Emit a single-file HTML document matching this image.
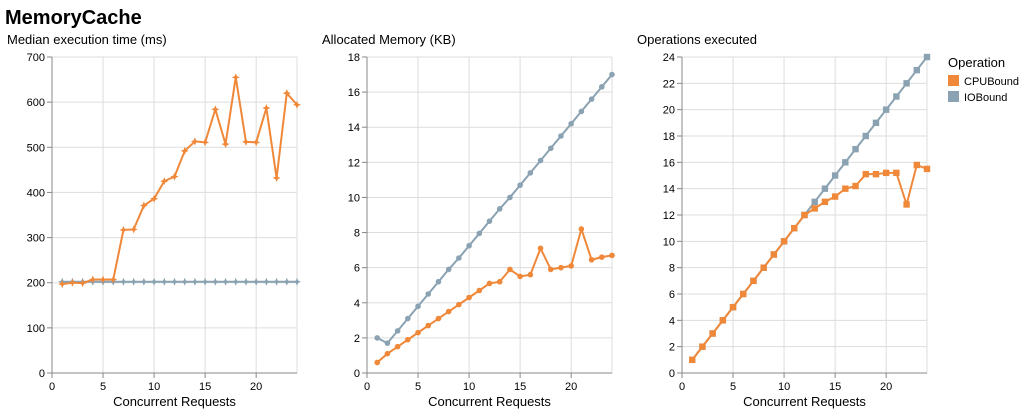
<!DOCTYPE html>
<html><head><meta charset="utf-8"><style>
body{margin:0;background:#fff;width:1027px;height:415px;overflow:hidden;font-family:"Liberation Sans",sans-serif}
</style></head><body>
<svg id="s" width="1027" height="415" xmlns="http://www.w3.org/2000/svg" font-family="Liberation Sans, sans-serif"></svg>
<script>
const S=document.getElementById('s');let h='';
const OR='#f0883a',BL='#8aa2b2';
h+='<text x="5" y="24" font-size="20" font-weight="bold" fill="#000">MemoryCache</text>';
const charts=[
{x0:52,title:'Median execution time (ms)',max:700,step:100,mk:'star',
 cpu:[197,200,199,207,207,207,317,318,371,386,425,435,492,513,511,584,507,655,512,511,587,432,620,594],
 io:Array(24).fill(202)},
{x0:367,title:'Allocated Memory (KB)',max:18,step:2,mk:'circle',
 cpu:[0.6,1.1,1.5,1.9,2.3,2.7,3.1,3.5,3.9,4.3,4.7,5.1,5.2,5.9,5.5,5.6,7.1,5.9,6.0,6.1,8.2,6.45,6.6,6.7],
 io:[2.0,1.7,2.4,3.1,3.8,4.5,5.2,5.9,6.55,7.25,7.95,8.65,9.35,10.0,10.7,11.4,12.1,12.8,13.5,14.2,14.9,15.6,16.3,17.0]},
{x0:682,title:'Operations executed',max:24,step:2,mk:'square',
 cpu:[1,2,3,4,5,6,7,8,9,10,11,12,12.5,13,13.4,14,14.2,15.1,15.1,15.2,15.2,12.8,15.8,15.5],
 io:Array.from({length:24},(_,i)=>i+1)}];
const W=245,T=57,B=373;
charts.forEach(c=>{
 const X=v=>c.x0+v/24*W, Y=v=>B-v/c.max*(B-T);
 h+=`<text x="${c.x0-45}" y="44" font-size="13" fill="#000">${c.title}</text>`;
 for(let v=0;v<=c.max;v+=c.step){const y=Y(v);
  h+=`<line x1="${c.x0}" x2="${c.x0+W}" y1="${y}" y2="${y}" stroke="#ddd"/>`;
  h+=`<line x1="${c.x0-5}" x2="${c.x0}" y1="${y}" y2="${y}" stroke="#888"/>`;
  h+=`<text x="${c.x0-7}" y="${y+4}" font-size="11" text-anchor="end" fill="#000">${v}</text>`;}
 for(let v=0;v<=20;v+=5){const x=X(v);
  h+=`<line x1="${x}" x2="${x}" y1="${T}" y2="${B}" stroke="#ddd"/>`;
  h+=`<line x1="${x}" x2="${x}" y1="${B}" y2="${B+5}" stroke="#888"/>`;
  h+=`<text x="${x}" y="${B+17}" font-size="11" text-anchor="middle" fill="#000">${v}</text>`;}
 h+=`<line x1="${c.x0+W}" x2="${c.x0+W}" y1="${T}" y2="${B}" stroke="#ddd"/>`;
 h+=`<line x1="${c.x0}" x2="${c.x0}" y1="${T}" y2="${B}" stroke="#888"/>`;
 h+=`<line x1="${c.x0}" x2="${c.x0+W}" y1="${B}" y2="${B}" stroke="#888"/>`;
 h+=`<text x="${c.x0+W/2}" y="406" font-size="13" text-anchor="middle" fill="#000">Concurrent Requests</text>`;
 [[c.io,BL],[c.cpu,OR]].forEach(([d,col])=>{
  h+=`<polyline fill="none" stroke="${col}" stroke-width="2" points="${d.map((v,i)=>X(i+1)+','+Y(v)).join(' ')}"/>`;
  d.forEach((v,i)=>{const x=X(i+1),y=Y(v);
   if(c.mk=='circle')h+=`<circle cx="${x}" cy="${y}" r="2.8" fill="${col}"/>`;
   else if(c.mk=='square')h+=`<rect x="${x-3.2}" y="${y-3.2}" width="6.4" height="6.4" fill="${col}"/>`;
   else h+=`<path d="M${x},${y-4}L${x+1.2},${y-1.2}L${x+4},${y}L${x+1.2},${y+1.2}L${x},${y+4}L${x-1.2},${y+1.2}L${x-4},${y}L${x-1.2},${y-1.2}Z" fill="${col}"/>`;
  });
 });
});
h+='<text x="948" y="67" font-size="13" fill="#000">Operation</text>';
h+=`<rect x="948" y="75" width="11" height="11" fill="${OR}"/><text x="964" y="85" font-size="11" fill="#000">CPUBound</text>`;
h+=`<rect x="948" y="91" width="11" height="11" fill="${BL}"/><text x="964" y="101" font-size="11" fill="#000">IOBound</text>`;
S.innerHTML=h;
</script>
</body></html>
